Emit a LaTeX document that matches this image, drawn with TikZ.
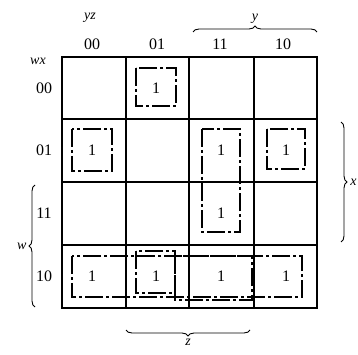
\documentclass[tikz,border=0pt]{standalone}
\usepackage{fontspec}
\setmainfont{Liberation Serif}
\usetikzlibrary{decorations.pathreplacing}
\begin{document}
\begin{tikzpicture}[x=1pt,y=-1pt,
  grid/.style={line width=2.4pt},
  loop/.style={line width=1.2pt, dash pattern=on 18pt off 3pt on 3pt off 3pt},
  lbl/.style={font=\fontsize{16}{16}\selectfont, inner sep=0pt},
  one/.style={font=\fontsize{16}{16}\selectfont, inner sep=0pt},
  var/.style={font=\itshape\fontsize{14}{14}\selectfont, inner sep=0pt},
  br/.style={decorate, decoration={brace, amplitude=6pt}, line width=0.9pt}]
\useasboundingbox (0,0) rectangle (358,355);
% grid
\draw[grid] (62,57) rectangle (317,308);
\foreach \x in {126,189,254} \draw[grid] (\x,57) -- (\x,308);
\foreach \y in {119,182,245} \draw[grid] (62,\y) -- (317,\y);
% headers
\node[var] (yz) at (90,18) {yz};
\node[var] (wx) at (38,61) {wx};
\node[lbl] (c00) at (92,44) {00};
\node[lbl] (c01) at (157,44) {01};
\node[lbl] (c11) at (220,44) {11};
\node[lbl] (c10) at (283,44) {10};
\node[lbl] (r00) at (44,88) {00};
\node[lbl] (r01) at (44,150) {01};
\node[lbl] (r11) at (44,213) {11};
\node[lbl] (r10) at (44,276) {10};
% ones
\node[one] (a) at (156,88) {1};
\node[one] (b) at (92,150) {1};
\node[one] (c) at (221,150) {1};
\node[one] (d) at (286,150) {1};
\node[one] (e) at (221,213) {1};
\node[one] (f) at (92,276) {1};
\node[one] (g) at (156,276) {1};
\node[one] (h) at (221,276) {1};
\node[one] (i) at (286,276) {1};
% loops
\draw[loop] (136,68) rectangle (176,106);
\draw[loop] (72,129) rectangle (112,171);
\draw[loop] (202,129) rectangle (240,232);
\draw[loop] (267,129) rectangle (305,169);
\draw[loop] (72,256) rectangle (302,297);
\draw[loop] (136,251) rectangle (175,293);
\draw[loop] (175,256) rectangle (252,300);
% braces
\coordinate (ya) at (193,32); \coordinate (yb) at (317,32);
\draw[br] (ya) -- (yb) node[midway, above=8pt, var] (ylab) {y};
\coordinate (xa) at (341,122); \coordinate (xb) at (341,242);
\draw[br] (xa) -- (xb) node[midway, right=9pt, var] (xlab) {x};
\coordinate (wa) at (35,307); \coordinate (wb) at (35,185);
\draw[br] (wa) -- (wb) node[midway, left=8pt, var] (wlab) {w};
\coordinate (za) at (250,330); \coordinate (zb) at (126,330);
\draw[br] (za) -- (zb) node[midway, below=9pt, var] (zlab) {z};
\end{tikzpicture}
\end{document}
